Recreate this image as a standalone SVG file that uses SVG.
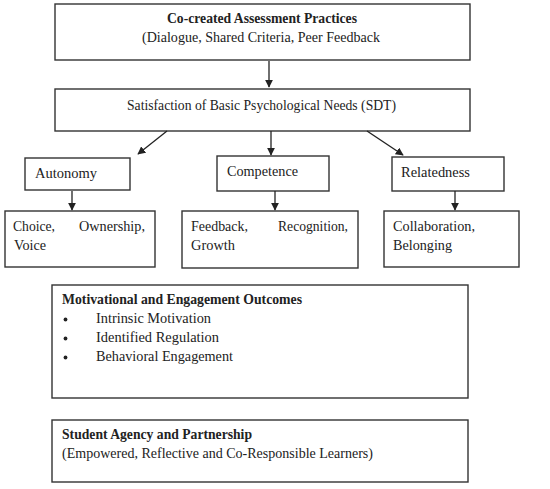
<svg xmlns="http://www.w3.org/2000/svg" width="550" height="489" viewBox="0 0 550 489">
<style>
.box{fill:#fff;stroke:#333;stroke-width:1.4}
text{font-family:"Liberation Serif","Times New Roman",serif;font-size:14px;fill:#222}
.b{font-weight:bold}
.c{stroke:#222;stroke-width:1.3;fill:none}
</style>
<defs>
<marker id="ah" viewBox="0 0 10 10" refX="9" refY="5" markerWidth="8" markerHeight="8" markerUnits="userSpaceOnUse" orient="auto">
<path d="M0,0 L10,5 L0,10 z" fill="#222"/>
</marker>
</defs>
<rect width="550" height="489" fill="#fff"/>
<g id="n1"><rect class="box" x="55" y="4" width="415" height="56"/>
<text class="b" x="167" y="23" textLength="190" lengthAdjust="spacingAndGlyphs">Co-created Assessment Practices</text>
<text x="142" y="42" textLength="238" lengthAdjust="spacingAndGlyphs">(Dialogue, Shared Criteria, Peer Feedback</text></g>
<g id="n2"><rect class="box" x="55" y="89" width="415" height="42"/>
<text x="127" y="110" textLength="269" lengthAdjust="spacingAndGlyphs">Satisfaction of Basic Psychological Needs (SDT)</text></g>
<g id="n3"><rect class="box" x="25" y="158" width="105" height="32"/>
<text x="35" y="178" textLength="62" lengthAdjust="spacingAndGlyphs">Autonomy</text></g>
<g id="n4"><rect class="box" x="217" y="156" width="112" height="35"/>
<text x="227" y="176" textLength="71" lengthAdjust="spacingAndGlyphs">Competence</text></g>
<g id="n5"><rect class="box" x="392" y="157" width="112" height="34"/>
<text x="401" y="177" textLength="69" lengthAdjust="spacingAndGlyphs">Relatedness</text></g>
<g id="n6"><rect class="box" x="5" y="211" width="150" height="56"/>
<text x="13" y="231" textLength="42" lengthAdjust="spacingAndGlyphs">Choice,</text>
<text x="79" y="231" textLength="66" lengthAdjust="spacingAndGlyphs">Ownership,</text>
<text x="14" y="250" textLength="32" lengthAdjust="spacingAndGlyphs">Voice</text></g>
<g id="n7"><rect class="box" x="182" y="211" width="176" height="57"/>
<text x="191" y="231" textLength="57" lengthAdjust="spacingAndGlyphs">Feedback,</text>
<text x="278" y="231" textLength="70" lengthAdjust="spacingAndGlyphs">Recognition,</text>
<text x="191" y="250" textLength="44" lengthAdjust="spacingAndGlyphs">Growth</text></g>
<g id="n8"><rect class="box" x="384" y="211" width="135" height="56"/>
<text x="393" y="231" textLength="82" lengthAdjust="spacingAndGlyphs">Collaboration,</text>
<text x="393" y="250" textLength="59" lengthAdjust="spacingAndGlyphs">Belonging</text></g>
<g id="n9"><rect class="box" x="52" y="285" width="416" height="113"/>
<text class="b" x="62" y="304" textLength="240" lengthAdjust="spacingAndGlyphs">Motivational and Engagement Outcomes</text>
<circle cx="65.5" cy="319.5" r="1.9" fill="#222"/>
<circle cx="65.5" cy="338.5" r="1.9" fill="#222"/>
<circle cx="65.5" cy="357.5" r="1.9" fill="#222"/>
<text x="96" y="323" textLength="115" lengthAdjust="spacingAndGlyphs">Intrinsic Motivation</text>
<text x="96" y="342" textLength="123" lengthAdjust="spacingAndGlyphs">Identified Regulation</text>
<text x="96" y="361" textLength="137" lengthAdjust="spacingAndGlyphs">Behavioral Engagement</text></g>
<g id="n10"><rect class="box" x="52" y="420" width="416" height="62"/>
<text class="b" x="62" y="439" textLength="190" lengthAdjust="spacingAndGlyphs">Student Agency and Partnership</text>
<text x="62" y="458" textLength="311" lengthAdjust="spacingAndGlyphs">(Empowered, Reflective and Co-Responsible Learners)</text></g>
<g id="connectors">
<line class="c" x1="269" y1="61" x2="269" y2="87" marker-end="url(#ah)"/>
<line class="c" x1="167" y1="131" x2="138" y2="154" marker-end="url(#ah)"/>
<line class="c" x1="271" y1="131" x2="271" y2="155" marker-end="url(#ah)"/>
<line class="c" x1="367" y1="131" x2="403" y2="155" marker-end="url(#ah)"/>
<line class="c" x1="72" y1="191" x2="72" y2="210" marker-end="url(#ah)"/>
<line class="c" x1="275" y1="191" x2="275" y2="210" marker-end="url(#ah)"/>
<line class="c" x1="455" y1="191" x2="455" y2="210" marker-end="url(#ah)"/>
</g>
</svg>
